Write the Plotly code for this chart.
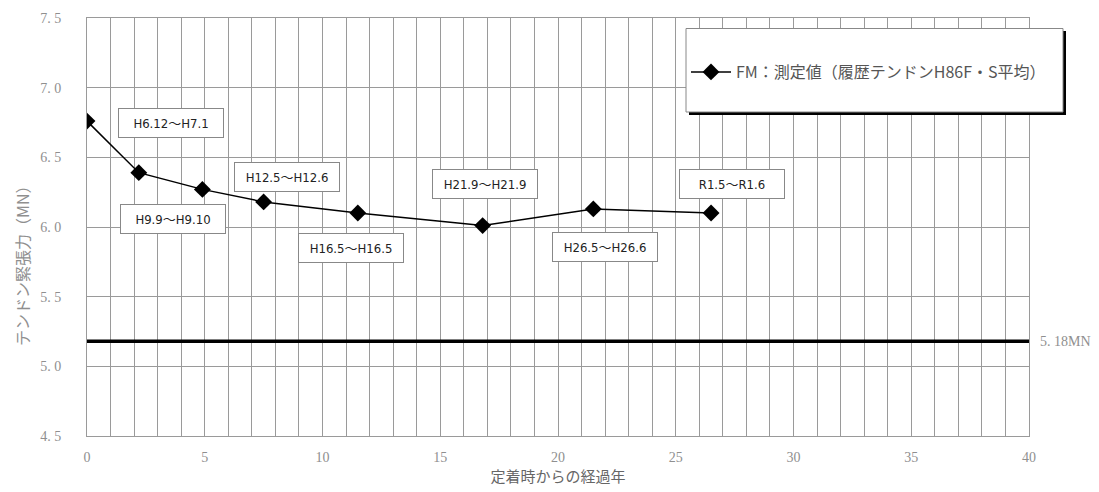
import plotly.graph_objects as go

# ---- data ----
years = [0.0, 2.2, 4.9, 7.5, 11.5, 16.8, 21.5, 26.5]
tension = [6.76, 6.39, 6.27, 6.18, 6.10, 6.01, 6.13, 6.10]
period_labels = ["H6.12～H7.1", "H9.9～H9.10", "H12.5～H12.6", "H16.5～H16.5",
                 "H21.9～H21.9", "H26.5～H26.6", "R1.5～R1.6"]
label_x = [3.55, 3.65, 8.5, 11.2, 16.9, 22.0, 27.4]
label_y = [6.75, 6.06, 6.36, 5.85, 6.31, 5.86, 6.31]
threshold = 5.18
threshold_label = "5. 18MN"
y_ticks = [4.5, 5.0, 5.5, 6.0, 6.5, 7.0, 7.5]
y_ticktext = ["4. 5", "5. 0", "5. 5", "6. 0", "6. 5", "7. 0", "7. 5"]
x_ticks = [0, 5, 10, 15, 20, 25, 30, 35, 40]
series_name = "FM：測定値（履歴テンドンH86F・S平均）"

GRID = "#9a9a9a"
TICKC = "#8f8f8f"
SERIF = "Liberation Serif, Noto Sans CJK JP, serif"
JP = "Noto Sans CJK JP, sans-serif"

fig = go.Figure()

fig.add_trace(go.Scatter(
    x=years, y=tension, mode="lines+markers", name=series_name,
    line=dict(color="black", width=1.5),
    marker=dict(symbol="diamond", size=13, color="black"),
    showlegend=True,
))

fig.add_hline(y=threshold, line=dict(color="black", width=3.5), layer="above")

for t, lx, ly in zip(period_labels, label_x, label_y):
    fig.add_annotation(
        x=lx, y=ly, xref="x", yref="y", text=t, showarrow=False,
        font=dict(family="DejaVu Sans Condensed, Noto Sans CJK JP", size=13, color="#222"),
        bgcolor="white", bordercolor="#888", borderwidth=1, borderpad=3,
        width=98, height=22,
    )

fig.add_annotation(
    x=1.01, y=threshold, xref="paper", yref="y", text=threshold_label,
    showarrow=False, xanchor="left",
    font=dict(family=SERIF, size=14, color=TICKC),
)

# legend box with shadow (pixels converted to paper coordinates)
W, H = 1099, 492
L, R, T, B = 87, 70, 18, 56
pw, ph = W - L - R, H - T - B
def px(xp): return (xp - L) / pw
def py(yp): return (H - B - yp) / ph

# y-axis title as rotated text
fig.add_annotation(
    x=px(22), y=py(262), xref="paper", yref="paper", text="テンドン緊張力（MN）",
    showarrow=False, textangle=-90, xanchor="center", yanchor="middle",
    font=dict(family=JP, size=16, color=TICKC),
)

fig.add_shape(type="rect", xref="paper", yref="paper",
              x0=px(689), x1=px(1066), y0=py(115), y1=py(31),
              fillcolor="black", line=dict(width=0), layer="above")
fig.add_shape(type="rect", xref="paper", yref="paper",
              x0=px(686), x1=px(1063), y0=py(112), y1=py(28.5),
              fillcolor="white", line=dict(color="#888", width=1), layer="above")

fig.update_layout(
    width=W, height=H,
    margin=dict(l=L, r=R, t=T, b=B, autoexpand=False),
    paper_bgcolor="white", plot_bgcolor="white",
    showlegend=True,
    legend=dict(
        x=px(686), y=py(72), xanchor="left", yanchor="middle",
        bgcolor="rgba(0,0,0,0)", borderwidth=0,
        font=dict(family=JP, size=16, color="#555"),
        itemwidth=40,
    ),
    xaxis=dict(
        range=[0, 40], automargin=False,
        tickvals=x_ticks, ticktext=[str(v) for v in x_ticks],
        showgrid=False, zeroline=False,
        showline=True, linecolor=GRID, mirror=True, linewidth=1,
        tickfont=dict(family=SERIF, size=14, color=TICKC),
        ticks="", ticklabelstandoff=8,
        minor=dict(dtick=1, tick0=0, showgrid=True, gridcolor=GRID, gridwidth=1),
        title=dict(text="定着時からの経過年", font=dict(family=JP, size=15, color="#666"), standoff=2),
    ),
    yaxis=dict(
        range=[4.5, 7.5], tickvals=y_ticks, ticktext=y_ticktext, automargin=False,
        showgrid=True, gridcolor=GRID, gridwidth=1, zeroline=False,
        showline=True, linecolor=GRID, mirror=True, linewidth=1,
        tickfont=dict(family=SERIF, size=14, color=TICKC),
        ticks="", ticklabelstandoff=22,
    ),
)

fig.write_html("out.html", config={"displayModeBar": False},
               post_script="document.body.style.margin='0';")
